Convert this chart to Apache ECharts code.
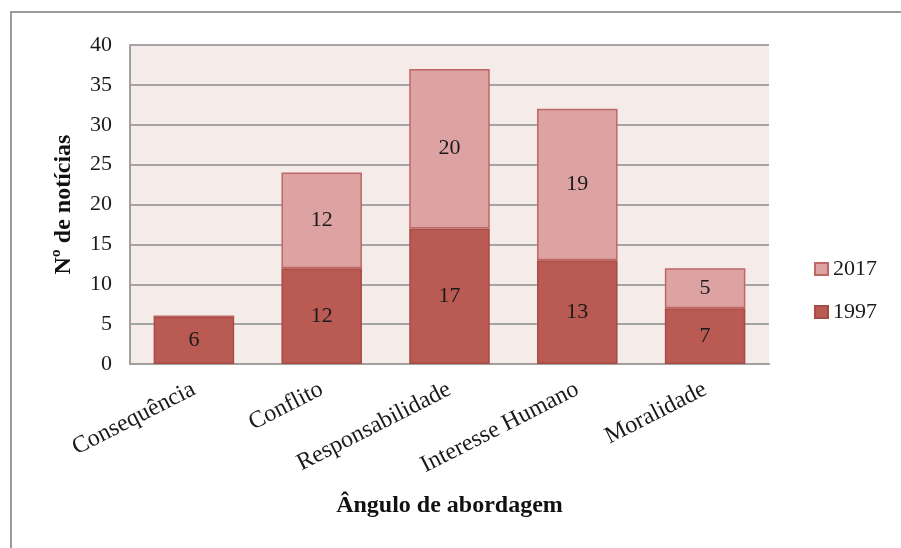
<!DOCTYPE html>
<html>
<head>
<meta charset="utf-8">
<script src="https://cdn.jsdelivr.net/npm/echarts@6/dist/echarts.min.js"></script>
<style>
html,body{margin:0;padding:0;background:#fff;}
#chart{width:901px;height:548px;}
</style>
</head>
<body>
<div id="chart"></div>
<script>
const categories = ['Consequência', 'Conflito', 'Responsabilidade', 'Interesse Humano', 'Moralidade'];
const values1997 = [6, 12, 17, 13, 7];
const values2017 = [0, 12, 20, 19, 5];
const yTicks = [0, 5, 10, 15, 20, 25, 30, 35, 40];

const chart = echarts.init(document.getElementById('chart'));
const font = '"Liberation Serif", "Times New Roman", serif';
const labelOpt = {
  show: true,
  position: 'inside',
  fontFamily: font,
  fontSize: 22,
  color: '#1a1a1a',
  formatter: p => (p.value ? String(p.value) : '')
};
chart.setOption({
  animation: false,
  backgroundColor: '#ffffff',
  graphic: [{
    type: 'rect',
    shape: { x: 11, y: 12, width: 1000, height: 1000 },
    style: { fill: 'none', stroke: '#9a9a9a', lineWidth: 2 },
    silent: true
  }],
  grid: {
    left: 130, right: 132, top: 45, bottom: 184,
    show: true, backgroundColor: '#f5ecea', borderWidth: 0
  },
  legend: {
    orient: 'vertical',
    left: 809, top: 253,
    itemWidth: 13, itemHeight: 12, itemGap: 21,
    icon: 'rect',
    data: ['2017', '1997'],
    textStyle: { fontFamily: font, fontSize: 22, color: '#1a1a1a', padding: [12, 0, 0, 0] }
  },
  xAxis: {
    type: 'category',
    data: categories,
    name: 'Ângulo de abordagem',
    nameLocation: 'middle',
    nameGap: 130,
    nameTextStyle: { fontFamily: font, fontSize: 24, fontWeight: 'bold', color: '#111' },
    axisLine: { show: true, lineStyle: { color: '#a0a0a0', width: 2 } },
    axisTick: { show: false },
    axisLabel: {
      rotate: 27, margin: 24, interval: 0,
      fontFamily: font, fontSize: 24, color: '#1a1a1a'
    }
  },
  yAxis: {
    type: 'value',
    min: 0, max: 40, interval: 5,
    name: 'Nº de notícias',
    nameLocation: 'middle',
    nameGap: 54,
    nameRotate: 90,
    nameTextStyle: { fontFamily: font, fontSize: 24, fontWeight: 'bold', color: '#111' },
    axisLine: { show: true, lineStyle: { color: '#a0a0a0', width: 2 } },
    axisTick: { show: false },
    axisLabel: {
      margin: 18, fontFamily: font, fontSize: 22, color: '#1a1a1a',
      formatter: v => (yTicks.includes(v) ? String(v) : '')
    },
    splitLine: { show: true, lineStyle: { color: '#a4a4a4', width: 2 } }
  },
  series: [
    {
      name: '1997', type: 'bar', stack: 'total', data: values1997,
      barWidth: '63%',
      itemStyle: { color: '#b95a53', borderColor: '#a84a46', borderWidth: 1.5 },
      label: labelOpt
    },
    {
      name: '2017', type: 'bar', stack: 'total', data: values2017,
      barWidth: '63%',
      itemStyle: { color: '#dca3a2', borderColor: '#bf6764', borderWidth: 1.5 },
      label: labelOpt
    }
  ]
});
</script>
</body>
</html>
